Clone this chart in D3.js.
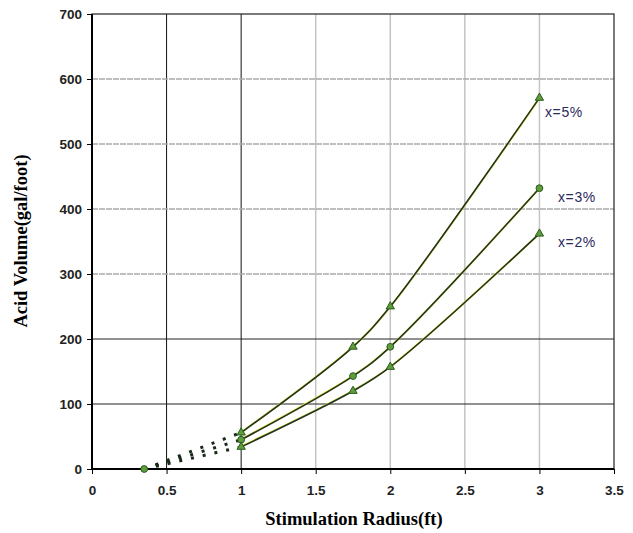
<!DOCTYPE html>
<html>
<head>
<meta charset="utf-8">
<script src="https://cdn.jsdelivr.net/npm/d3@7"></script>
<style>
  body { margin: 0; background: #fff; }
  svg text { font-family: "Liberation Sans", Arial, sans-serif; }
</style>
</head>
<body>
<svg id="chart" width="633" height="533"></svg>
<script>
  // data
  const radius = [1, 1.75, 2, 3];
  const vol5 = [56, 188, 250, 571];
  const vol3 = [45, 143, 188, 432];
  const vol2 = [34, 120, 157, 362];
  const startPoint = [0.35, 0];
  const seriesNames = ["x=5%", "x=3%", "x=2%"];
  const xTicks = [0, 0.5, 1, 1.5, 2, 2.5, 3, 3.5];
  const yTicks = [0, 100, 200, 300, 400, 500, 600, 700];

  const svg = d3.select("#chart");
  const margin = {left: 92, right: 19, top: 14, bottom: 64};
  const width = 633, height = 533;

  const x = d3.scaleLinear().domain([0, 3.5]).range([margin.left, width - margin.right]);
  const y = d3.scaleLinear().domain([0, 700]).range([height - margin.bottom, margin.top]);

  // grid
  const grid = svg.append("g");
  grid.selectAll("line.v")
    .data(xTicks.slice(1, -1))
    .join("line")
      .attr("x1", d => x(d)).attr("x2", d => x(d))
      .attr("y1", y(0)).attr("y2", y(700))
      .attr("stroke", d => d <= 1 ? "#111" : "#c4c4c4")
      .attr("stroke-width", d => d <= 1 ? 1 : 1.5);
  grid.selectAll("line.h")
    .data(yTicks.slice(1, -1))
    .join("line")
      .attr("x1", x(0)).attr("x2", x(3.5))
      .attr("y1", d => y(d)).attr("y2", d => y(d))
      .attr("stroke", d => d <= 200 ? "#222" : "#aaa")
      .attr("stroke-width", d => d <= 200 ? 1 : 1.3)
      .attr("stroke-dasharray", d => d <= 200 ? null : "6,1");

  // frame
  svg.append("rect")
    .attr("x", x(0)).attr("y", y(700))
    .attr("width", x(3.5) - x(0)).attr("height", y(0) - y(700))
    .attr("fill", "none").attr("stroke", "#222").attr("stroke-width", 1.2);
  svg.append("line")
    .attr("x1", x(0)).attr("x2", x(0)).attr("y1", y(0)).attr("y2", y(700))
    .attr("stroke", "#000").attr("stroke-width", 2);
  svg.append("line")
    .attr("x1", x(0)).attr("x2", x(3.5)).attr("y1", y(0)).attr("y2", y(0))
    .attr("stroke", "#000").attr("stroke-width", 2);

  // axes
  const xAxis = svg.append("g")
    .attr("transform", `translate(0,${y(0)})`)
    .call(d3.axisBottom(x).tickValues(xTicks).tickSize(5).tickPadding(11).tickFormat(d3.format("")));
  const yAxis = svg.append("g")
    .attr("transform", `translate(${x(0)},0)`)
    .call(d3.axisLeft(y).tickValues(yTicks).tickSize(5).tickPadding(5));
  [xAxis, yAxis].forEach(a => {
    a.select(".domain").remove();
    a.selectAll(".tick line").attr("stroke", "#000");
    a.selectAll("text").attr("font-size", 13.5).attr("font-weight", "bold").attr("fill", "#222");
  });

  svg.append("text")
    .attr("x", 354).attr("y", 525)
    .attr("text-anchor", "middle")
    .style("font-family", "'Liberation Serif', 'Times New Roman', serif")
    .attr("font-weight", "bold").attr("font-size", 18.5)
    .text("Stimulation Radius(ft)");
  svg.append("text")
    .attr("transform", "translate(27,241) rotate(-90)")
    .attr("text-anchor", "middle")
    .style("font-family", "'Liberation Serif', 'Times New Roman', serif")
    .attr("font-weight", "bold").attr("font-size", 18.5)
    .text("Acid Volume(gal/foot)");

  // series
  const series = [vol5, vol3, vol2].map((v, i) => ({
    name: seriesNames[i],
    marker: i === 1 ? "circle" : "triangle",
    pts: radius.map((r, j) => [r, v[j]])
  }));

  const line = d3.line().x(d => x(d[0])).y(d => y(d[1])).curve(d3.curveCatmullRom.alpha(0.5));

  // dotted extrapolation to the origin point
  svg.append("g").selectAll("line")
    .data(series)
    .join("line")
      .attr("x1", x(startPoint[0])).attr("y1", y(startPoint[1]))
      .attr("x2", d => x(d.pts[0][0])).attr("y2", d => y(d.pts[0][1]))
      .attr("stroke", "#1a2a1a").attr("stroke-width", 3)
      .attr("stroke-dasharray", "3,9");

  const lines = svg.append("g");
  lines.selectAll("path.halo")
    .data(series)
    .join("path")
      .attr("d", d => line(d.pts))
      .attr("transform", "translate(1,-1)")
      .attr("fill", "none").attr("stroke", "#e8e83a").attr("stroke-width", 2);
  lines.selectAll("path.main")
    .data(series)
    .join("path")
      .attr("d", d => line(d.pts))
      .attr("fill", "none").attr("stroke", "#1f3326").attr("stroke-width", 1.6);

  // markers
  const tri = d3.symbol().type(d3.symbolTriangle).size(30);
  const circ = d3.symbol().type(d3.symbolCircle).size(36);
  series.forEach(s => {
    svg.append("g").selectAll("path")
      .data(s.pts)
      .join("path")
        .attr("transform", d => `translate(${x(d[0])},${y(d[1])})`)
        .attr("d", s.marker === "circle" ? circ : tri)
        .attr("fill", "#5e9e3a").attr("stroke", "#2d5a22").attr("stroke-width", 1);
  });
  svg.append("path")
    .attr("transform", `translate(${x(startPoint[0])},${y(startPoint[1])})`)
    .attr("d", circ)
    .attr("fill", "#5e9e3a").attr("stroke", "#2d5a22");

  // labels
  const labelPos = [[545, 117], [558, 202], [558, 247]];
  svg.append("g").selectAll("text")
    .data(series)
    .join("text")
      .attr("x", (d, i) => labelPos[i][0]).attr("y", (d, i) => labelPos[i][1])
      .attr("font-size", 14).attr("letter-spacing", 0.6).attr("fill", "#2a2a5e")
      .text(d => d.name);
</script>
</body>
</html>
